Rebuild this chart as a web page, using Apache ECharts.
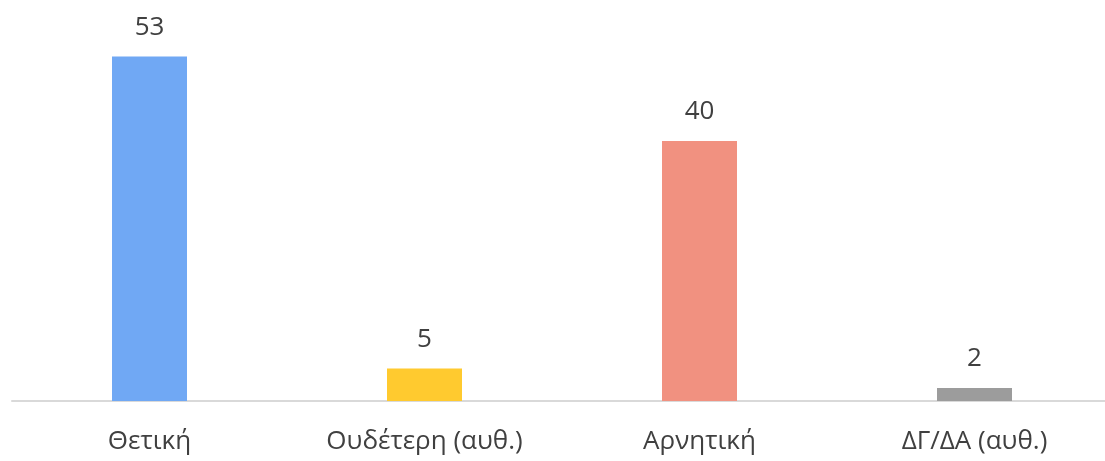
<!DOCTYPE html>
<html>
<head>
    <meta charset="utf-8">
    <title>Chart</title>
    <script src="https://cdn.jsdelivr.net/npm/echarts@6/dist/echarts.min.js"></script>
    <style>
        html, body { margin: 0; padding: 0; background: #fff; overflow: hidden; }
    </style>
</head>
<body>
    <!-- a bit wider than the window: the last band runs past the right edge -->
    <div id="main" style="width: 1112px;height:461px;"></div>
    <script type="text/javascript">
        // categories and values
        var categories = ['Θετική', 'Ουδέτερη (αυθ.)', 'Αρνητική', 'ΔΓ/ΔΑ (αυθ.)'];
        var values = [53, 5, 40, 2];
        var barColors = ['#70A8F4', '#FFCA2F', '#F19180', '#9C9C9C'];

        var myChart = echarts.init(document.getElementById('main'));

        var option = {
            animation: false,
            grid: {
                left: 12,
                right: 0,
                top: 11,
                bottom: 60
            },
            xAxis: {
                type: 'category',
                data: categories,
                axisLine: { lineStyle: { color: '#D9D9D9', width: 2 } },
                axisTick: { show: false },
                axisLabel: {
                    color: '#404040',
                    fontSize: 26,
                    fontFamily: 'Open Sans',
                    margin: 28
                }
            },
            yAxis: {
                type: 'value',
                min: 0,
                max: 60,
                show: false,
                splitLine: { show: false }
            },
            series: [{
                type: 'bar',
                barWidth: 75,
                data: values.map(function (v, i) {
                    return { value: v, itemStyle: { color: barColors[i] } };
                }),
                label: {
                    show: true,
                    position: 'top',
                    distance: 16,
                    color: '#404040',
                    fontSize: 26,
                    fontFamily: 'Open Sans'
                }
            }]
        };

        myChart.setOption(option);
    </script>
</body>
</html>
